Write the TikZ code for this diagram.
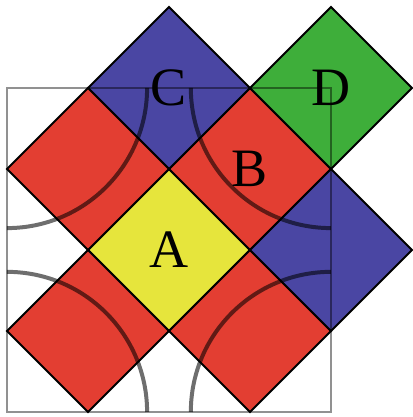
\documentclass[tikz,border=0pt]{standalone}
\usepackage{fontspec}
\setmainfont{Liberation Serif}
\usetikzlibrary{shapes.geometric}
\definecolor{tred}{RGB}{227,62,50}
\definecolor{tblue}{RGB}{74,70,163}
\definecolor{tgreen}{RGB}{62,174,58}
\definecolor{tyellow}{RGB}{230,229,60}
\definecolor{arcgray}{RGB}{110,110,110}
\definecolor{framegray}{RGB}{145,145,145}
\begin{document}
\begin{tikzpicture}[
  tile/.style={diamond, draw=black, line width=0.7pt, minimum width=2cm,
    minimum height=2cm, inner sep=0pt, outer sep=0pt, aspect=1,
    font=\fontsize{19}{19}\selectfont},
  frameline/.style={draw=framegray, line width=0.55pt},
  arcline/.style={draw=arcgray, line width=1.4pt}
]
\useasboundingbox (-2.086,-2.062) rectangle (3.012,3.086);
\node[tile, fill=tyellow] (A) at (0,0) {A};
\node[tile, fill=tred] (B) at (1,1) {B};
\node[tile, fill=tblue] (C) at (0,2) {C};
\node[tile, fill=tgreen] (D) at (2,2) {D};
\node[tile, fill=tred] (tl) at (-1,1) {};
\node[tile, fill=tred] (bl) at (-1,-1) {};
\node[tile, fill=tred] (br) at (1,-1) {};
\node[tile, fill=tblue] (r) at (2,0) {};
\coordinate (nw) at (-2,2);
\coordinate (ne) at (2,2);
\coordinate (sw) at (-2,-2);
\coordinate (se) at (2,-2);
\begin{scope}[blend mode=multiply]
\draw[frameline] (sw) rectangle (ne);
\draw[arcline] ([xshift=1.73cm]nw) arc (0:-90:1.73);
\draw[arcline] ([xshift=-1.73cm]ne) arc (180:270:1.73);
\draw[arcline] ([xshift=1.73cm]sw) arc (0:90:1.73);
\draw[arcline] ([xshift=-1.73cm]se) arc (180:90:1.73);
\end{scope}
\end{tikzpicture}
\end{document}
